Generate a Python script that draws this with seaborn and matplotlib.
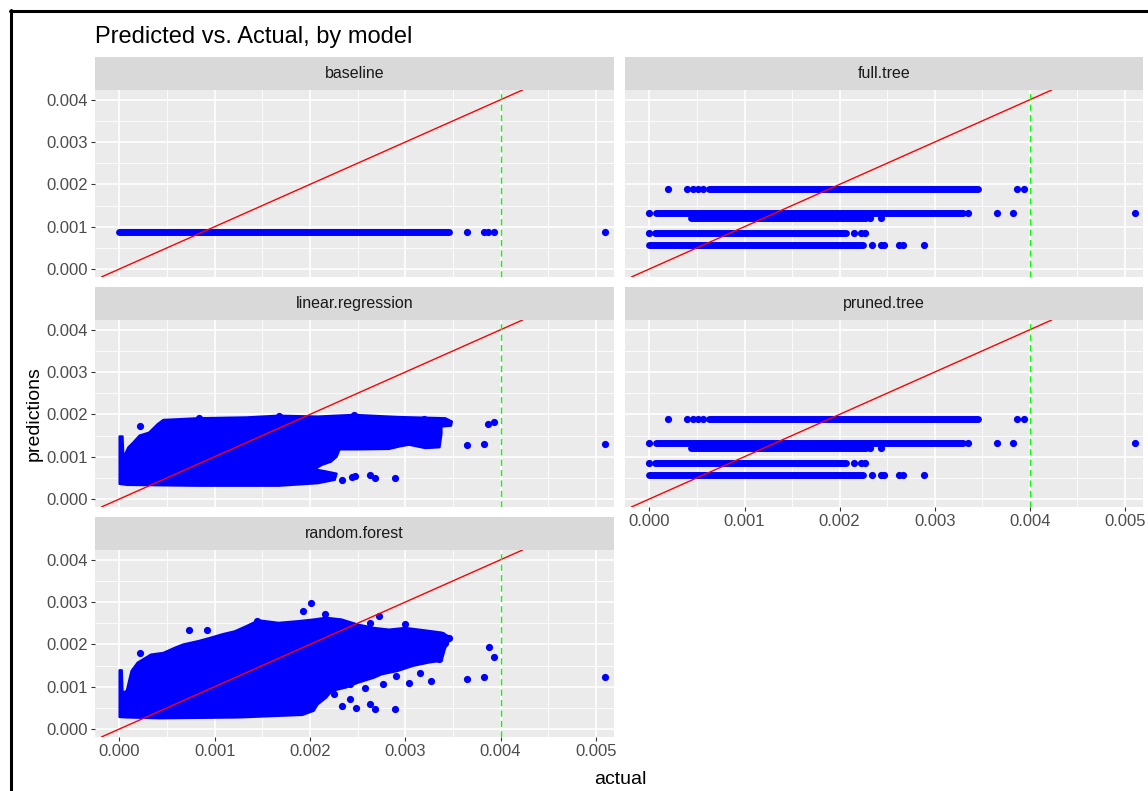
import matplotlib
matplotlib.use("Agg")
import matplotlib.pyplot as plt
from matplotlib.lines import Line2D
from matplotlib.ticker import MultipleLocator, FormatStrFormatter
import pandas as pd
import seaborn as sns

# ---------------------------------------------------------------- data
models = ["baseline", "full.tree", "linear.regression", "pruned.tree", "random.forest"]

# baseline: one constant prediction for every case
baseline_level = 0.00087
baseline_run = [0.0, 0.00346]
baseline_dots_x = [0.00365, 0.00383, 0.00387, 0.00393, 0.00510]

# tree models: a handful of leaf values (full and pruned trees agree)
tree_levels = [0.00190, 0.001326, 0.001216, 0.000852, 0.000577]
tree_run_start = [0.00063, 0.000074, 0.00044, 0.000056, 0.0]
tree_run_end = [0.00346, 0.00330, 0.00228, 0.00207, 0.00225]
tree_dots_x = [0.00019, 0.00039, 0.00046, 0.00051, 0.00056, 0.00387, 0.00394,
               0.0, 0.00335, 0.00366, 0.00382, 0.00511,
               0.00232, 0.00243,
               0.0, 0.00215, 0.00222, 0.00227,
               0.00234, 0.00243, 0.00247, 0.00262, 0.00267, 0.00289]
tree_dots_y = [0.00190] * 7 + [0.001326] * 5 + [0.001216] * 2 + [0.000852] * 4 + [0.000577] * 6

# linear regression: outline of the dense cloud plus the sparse points
lr_outline_x = [0.0, 0.0, 0.000033, 0.000042, 0.000092, 0.000146, 0.00021, 0.00031,
                0.0004, 0.00046, 0.00083, 0.00133, 0.00167, 0.00208, 0.00246, 0.00292,
                0.00342, 0.00349, 0.00348, 0.00338, 0.00338, 0.00336, 0.00321, 0.00304,
                0.00294, 0.00283, 0.0025, 0.00231, 0.00228, 0.00222, 0.00212, 0.00205,
                0.00215, 0.00228, 0.00226, 0.00208, 0.00167, 0.00083, 0.00008]
lr_outline_y = [0.000354, 0.00148, 0.00148, 0.00098, 0.00122, 0.00134, 0.0015, 0.00157,
                0.00177, 0.00187, 0.00191, 0.00193, 0.00197, 0.00195, 0.00199, 0.00194,
                0.00191, 0.00183, 0.00173, 0.00171, 0.00154, 0.00122, 0.0012, 0.00128,
                0.00124, 0.00118, 0.00117, 0.00117, 0.00100, 0.00088, 0.00080, 0.00070,
                0.00066, 0.00060, 0.00045, 0.00037, 0.00031, 0.00031, 0.00033]
lr_dots_x = [0.00022, 0.00234, 0.00244, 0.00247, 0.00263, 0.00268, 0.00289,
             0.00365, 0.00383, 0.00387, 0.00393, 0.00510, 0.00333, 0.00288,
             0.00083, 0.00167, 0.00246, 0.00320]
lr_dots_y = [0.00173, 0.00046, 0.00051, 0.00054, 0.00057, 0.00050, 0.00050,
             0.00128, 0.00130, 0.00177, 0.00181, 0.00130, 0.00145, 0.00130,
             0.00192, 0.00196, 0.00198, 0.00190]

# random forest: outline of the dense cloud plus the sparse points
rf_outline_x = [0.0, 0.0, 0.000025, 0.000033, 0.000075, 0.000092, 0.000125, 0.00019,
                0.00025, 0.00033, 0.00046, 0.00058, 0.00067, 0.00083, 0.00096, 0.00108,
                0.00121, 0.00133, 0.00146, 0.00167, 0.00188, 0.00204, 0.00217, 0.00233,
                0.0025, 0.00267, 0.00283, 0.003, 0.00321, 0.00338, 0.00348, 0.00342,
                0.00338, 0.00325, 0.00308, 0.00292, 0.00275, 0.00267, 0.0025, 0.00238,
                0.00223, 0.00217, 0.00208, 0.00204, 0.00192, 0.00125, 0.00042, 0.00008]
rf_outline_y = [0.00028, 0.00139, 0.00139, 0.00086, 0.0009, 0.00106, 0.00137, 0.00157,
                0.00165, 0.00176, 0.0018, 0.00192, 0.002, 0.00208, 0.00216, 0.00224,
                0.00231, 0.00243, 0.00257, 0.00251, 0.00255, 0.00259, 0.00263, 0.00259,
                0.00247, 0.00239, 0.00235, 0.00239, 0.00233, 0.00228, 0.00216, 0.00192,
                0.00161, 0.00157, 0.00149, 0.00137, 0.00129, 0.00121, 0.00109, 0.00098,
                0.0009, 0.00074, 0.00058, 0.00043, 0.00033, 0.00027, 0.00025, 0.00027]
rf_dots_x = [0.00022, 0.00073, 0.00092, 0.00144, 0.00193, 0.00201, 0.00216, 0.00263,
             0.00272, 0.00300, 0.00338, 0.00346, 0.00342, 0.00335, 0.00327, 0.00315,
             0.00304, 0.00290, 0.00277, 0.00258, 0.00242, 0.00234, 0.00248, 0.00263,
             0.00268, 0.00289, 0.00225, 0.00242, 0.00365, 0.00383, 0.00388, 0.00393,
             0.00510]
rf_dots_y = [0.00180, 0.00234, 0.00234, 0.00255, 0.00280, 0.00298, 0.00271, 0.00251,
             0.00267, 0.00247, 0.00222, 0.00216, 0.00204, 0.00165, 0.00113, 0.00133,
             0.00109, 0.00125, 0.00107, 0.00098, 0.00106, 0.00054, 0.00049, 0.00060,
             0.00047, 0.00047, 0.00083, 0.00070, 0.00117, 0.00124, 0.00194, 0.00169,
             0.00124]

x_ticks = [0.000, 0.001, 0.002, 0.003, 0.004, 0.005]
y_ticks = [0.000, 0.001, 0.002, 0.003, 0.004]
threshold = 0.004

# ---------------------------------------------------------------- style
sns.set_theme(style="darkgrid", rc={
    "axes.facecolor": "#EBEBEB",
    "grid.color": "white",
    "axes.edgecolor": "none",
    "xtick.color": "#333333",
    "ytick.color": "#333333",
    "xtick.labelcolor": "#4D4D4D",
    "ytick.labelcolor": "#4D4D4D",
})
plt.rcParams["font.family"] = ["Liberation Sans", "DejaVu Sans"]

POINT = "#0000FF"
DOT_S = 27
RUN_LW = 5.0

W, H = 1148, 791
fig = plt.figure(figsize=(W / 100, H / 100), dpi=100)

COL_X = [95, 625]
COL_W = [519, 518]
ROW_Y = [90, 320, 550]
PH = 187
SH = 33
XLIM = (-0.000257, 0.00519)
YLIM = (-0.00019, 0.00423)

layout = {
    "baseline": (0, 0),
    "full.tree": (1, 0),
    "linear.regression": (0, 1),
    "pruned.tree": (1, 1),
    "random.forest": (0, 2),
}
bottom_panels = {"random.forest", "pruned.tree"}


def make_panel(name):
    col, row = layout[name]
    left, top, w = COL_X[col], ROW_Y[row], COL_W[col]
    ax = fig.add_axes([left / W, 1 - (top + PH) / H, w / W, PH / H])
    strip = fig.add_axes([left / W, 1 - top / H, w / W, SH / H])
    strip.set_facecolor("#D9D9D9")
    strip.set_xticks([])
    strip.set_yticks([])
    strip.grid(False)
    for s in strip.spines.values():
        s.set_visible(False)
    strip.text(0.5, 0.5, name, ha="center", va="center", fontsize=11.5,
               color="#1A1A1A", transform=strip.transAxes)

    ax.set_xlim(*XLIM)
    ax.set_ylim(*YLIM)
    ax.set_xticks(x_ticks)
    ax.set_yticks(y_ticks)
    ax.xaxis.set_minor_locator(MultipleLocator(0.0005))
    ax.yaxis.set_minor_locator(MultipleLocator(0.0005))
    ax.xaxis.set_major_formatter(FormatStrFormatter("%.3f"))
    ax.yaxis.set_major_formatter(FormatStrFormatter("%.3f"))
    ax.grid(which="major", color="white", lw=1.2)
    ax.grid(which="minor", color="white", lw=0.6)
    ax.tick_params(which="minor", length=0)
    ax.tick_params(which="major", length=3, width=0.8, labelsize=12, pad=2)
    for s in ax.spines.values():
        s.set_visible(False)
    ax.tick_params(axis="y", left=(col == 0), labelleft=(col == 0))
    ax.tick_params(axis="x", bottom=(name in bottom_panels),
                   labelbottom=(name in bottom_panels))
    ax.set_xlabel("")
    ax.set_ylabel("")
    return ax


def finish(ax):
    ax.axline((0, 0), slope=1, color="#FF0000", lw=1.0, zorder=4)
    ax.axvline(threshold, color="#00FF00", lw=1.0, ls=(0, (4.5, 3)), zorder=4)


def dots(ax, xs, ys):
    df = pd.DataFrame({"actual": xs, "predictions": ys})
    sns.scatterplot(data=df, x="actual", y="predictions", ax=ax, color=POINT,
                    s=DOT_S, linewidth=0, legend=False, zorder=3)
    ax.set_xlabel("")
    ax.set_ylabel("")


def runs(ax, starts, ends, levels):
    for x0, x1, y in zip(starts, ends, levels):
        ax.plot([x0, x1], [y, y], color=POINT, lw=RUN_LW,
                solid_capstyle="round", zorder=3)


def cloud(ax, xs, ys):
    ax.fill(xs, ys, facecolor=POINT, edgecolor=POINT, lw=1.5,
            joinstyle="round", zorder=3)


# baseline
ax = make_panel("baseline")
runs(ax, [baseline_run[0]], [baseline_run[1]], [baseline_level])
dots(ax, baseline_dots_x, [baseline_level] * len(baseline_dots_x))
finish(ax)

# full and pruned trees
for name in ["full.tree", "pruned.tree"]:
    ax = make_panel(name)
    runs(ax, tree_run_start, tree_run_end, tree_levels)
    dots(ax, tree_dots_x, tree_dots_y)
    finish(ax)

# linear regression
ax = make_panel("linear.regression")
cloud(ax, lr_outline_x, lr_outline_y)
dots(ax, lr_dots_x, lr_dots_y)
finish(ax)

# random forest
ax = make_panel("random.forest")
cloud(ax, rf_outline_x, rf_outline_y)
dots(ax, rf_dots_x, rf_dots_y)
finish(ax)

# titles
fig.text(95 / W, 1 - 43 / H, "Predicted vs. Actual, by model", fontsize=17,
         ha="left", va="baseline", color="black")
fig.text(620 / W, 1 - 779 / H, "actual", fontsize=14, ha="center", va="center",
         color="black")
fig.text(34 / W, 1 - 414 / H, "predictions", fontsize=14, ha="center",
         va="center", rotation=90, color="black")

# outer frame
fig.add_artist(Line2D([10.5 / W, 10.5 / W], [0, 1 - 9.5 / H],
                      transform=fig.transFigure, color="black", lw=2.2))
fig.add_artist(Line2D([9.5 / W, 1], [1 - 10.5 / H, 1 - 10.5 / H],
                      transform=fig.transFigure, color="black", lw=2.2))

fig.savefig("out.png", dpi=100)
